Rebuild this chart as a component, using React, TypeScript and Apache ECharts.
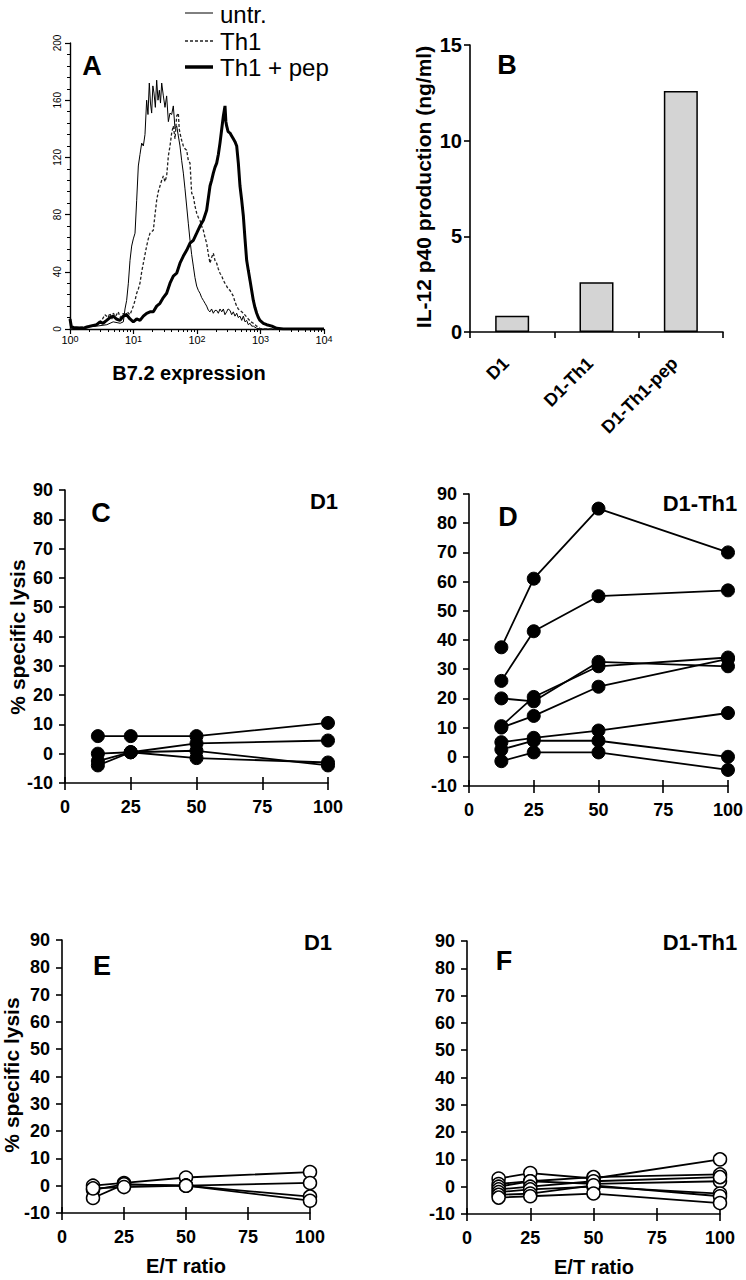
import React, { useEffect, useRef } from "react";
import * as echarts from "echarts";

const FONT = "'Liberation Sans', Arial, Helvetica, sans-serif";

// ---------- Panel A: flow histogram (x = decade position log10(B7.2), y = cell count)
const histDecadeLabels = ["0", "1", "2", "3", "4"];
const untrHist: [number, number][] = [
  [0, 8], [0.03, 0], [0.21, 1], [0.42, 2], [0.58, 3], [0.68, 5], [0.79, 4], [0.84, 5],
  [0.866, 14], [0.892, 20], [0.919, 32], [0.945, 48], [0.971, 58], [0.997, 63], [1.024, 67],
  [1.05, 90], [1.076, 114], [1.102, 122], [1.129, 130], [1.155, 128], [1.181, 136], [1.207, 160],
  [1.228, 150], [1.249, 172], [1.267, 158], [1.286, 151], [1.305, 170], [1.323, 165], [1.344, 155],
  [1.365, 174], [1.386, 160], [1.407, 167], [1.425, 158], [1.444, 172], [1.47, 163], [1.496, 155],
  [1.522, 163], [1.549, 145], [1.575, 151], [1.601, 150], [1.627, 156], [1.654, 140], [1.68, 142],
  [1.706, 135], [1.732, 128], [1.758, 118], [1.785, 109], [1.811, 98], [1.837, 86], [1.863, 74],
  [1.89, 62], [1.916, 52], [1.942, 44], [1.968, 36], [1.995, 30], [2.021, 27], [2.047, 25],
  [2.073, 22], [2.1, 20], [2.126, 18], [2.152, 16], [2.18, 13], [2.205, 12], [2.23, 14],
  [2.257, 11], [2.283, 13], [2.31, 13], [2.336, 11], [2.362, 14], [2.39, 12], [2.415, 14],
  [2.44, 10], [2.467, 12], [2.49, 14], [2.52, 13], [2.546, 10], [2.572, 12], [2.598, 9],
  [2.625, 11], [2.65, 8], [2.677, 9], [2.704, 6], [2.73, 9], [2.756, 5], [2.782, 6], [2.808, 3],
  [2.835, 4], [2.861, 2], [2.887, 2], [2.94, 0.5], [3.0, 0], [4, 0],
];
const th1Hist: [number, number][] = [
  [0, 0], [0.42, 3], [0.5, 6], [0.55, 10], [0.6, 8], [0.63, 11], [0.66, 7], [0.68, 11], [0.72, 9],
  [0.76, 12], [0.79, 8], [0.84, 11], [0.87, 9], [0.9, 12], [0.945, 10], [0.997, 16], [1.024, 20],
  [1.05, 25], [1.076, 28], [1.102, 32], [1.129, 40], [1.155, 46], [1.181, 52], [1.207, 58],
  [1.233, 63], [1.26, 67], [1.286, 68], [1.312, 69], [1.339, 80], [1.365, 90], [1.39, 96],
  [1.417, 100], [1.444, 104], [1.47, 107], [1.496, 103], [1.522, 107], [1.549, 121], [1.575, 128],
  [1.601, 137], [1.627, 142], [1.654, 133], [1.68, 149], [1.706, 151], [1.72, 140], [1.732, 137],
  [1.758, 132], [1.785, 128], [1.811, 126], [1.837, 125], [1.863, 118], [1.89, 116], [1.916, 95],
  [1.942, 93], [1.968, 86], [1.995, 81], [2.021, 78], [2.047, 76], [2.073, 72], [2.1, 69],
  [2.126, 64], [2.152, 60], [2.18, 52], [2.205, 46], [2.23, 50], [2.257, 53], [2.283, 48],
  [2.31, 46], [2.336, 42], [2.362, 39], [2.39, 37], [2.415, 34], [2.44, 32], [2.467, 30],
  [2.49, 28], [2.52, 27], [2.546, 25], [2.572, 23], [2.598, 19], [2.625, 16], [2.65, 14],
  [2.677, 13], [2.704, 12], [2.73, 11], [2.77, 9], [2.808, 7], [2.85, 5], [2.887, 4], [2.94, 2],
  [2.992, 0.5], [3.05, 0], [4, 0],
];
const th1PepHist: [number, number][] = [
  [0, 7], [0.02, 2], [0.052, 1], [0.21, 0.5], [0.315, 2], [0.42, 3], [0.472, 5], [0.52, 4],
  [0.577, 6], [0.63, 8], [0.682, 9], [0.73, 7], [0.787, 6], [0.84, 9], [0.892, 10], [0.945, 7],
  [0.997, 5], [1.05, 7], [1.102, 6], [1.155, 9], [1.207, 11], [1.26, 12], [1.312, 12], [1.365, 16],
  [1.417, 18], [1.47, 22], [1.522, 25], [1.575, 32], [1.627, 37], [1.68, 39], [1.732, 46],
  [1.785, 51], [1.837, 55], [1.89, 60], [1.942, 62], [1.995, 67], [2.047, 72], [2.1, 76],
  [2.152, 83], [2.18, 92], [2.205, 100], [2.23, 104], [2.257, 109], [2.283, 113], [2.31, 116],
  [2.336, 122], [2.362, 130], [2.39, 140], [2.415, 149], [2.441, 156], [2.455, 145], [2.467, 142],
  [2.49, 138], [2.52, 137], [2.546, 135], [2.572, 133], [2.598, 131], [2.625, 128], [2.651, 116],
  [2.677, 100], [2.704, 90], [2.73, 79], [2.756, 63], [2.782, 48], [2.808, 41], [2.835, 34],
  [2.861, 27], [2.887, 20], [2.913, 15], [2.94, 11], [2.966, 8], [2.992, 6], [3.045, 4],
  [3.097, 3], [3.18, 2], [3.255, 0.5], [3.36, 0], [4, 0],
];

// ---------- Panel B: IL-12 p40 production (ng/ml)
const il12Categories = ["D1", "D1-Th1", "D1-Th1-pep"];
const il12Values = [0.85, 2.6, 12.6];

// ---------- Panels C-F: % specific lysis vs E/T ratio
const etRatios = [12.5, 25, 50, 100];
const lysisC_D1: number[][] = [
  [6, 6, 6, 10.5],
  [-4, 0.5, 3.5, 4.5],
  [0, 0.5, 1, -4],
  [-2.5, 0.5, -1.5, -3],
];
const lysisD_D1Th1: number[][] = [
  [37.5, 61, 85, 70],
  [26, 43, 55, 57],
  [20, 19, 32.5, 31],
  [10.5, 20.5, 31, 34],
  [10, 14, 24, 33.5],
  [5, 6.5, 9, 15],
  [2.5, 5.5, 5.5, 0],
  [-1.5, 1.5, 1.5, -4.5],
];
const lysisE_D1: number[][] = [
  [0, 1, 3, 5],
  [-1.5, 0.5, 0, 1],
  [-4.5, 0.5, 0, -4],
  [-1, -0.5, 0, -5.5],
];
const lysisF_D1Th1: number[][] = [
  [3, 5, 3, 10],
  [1, 2, 3.5, 4.5],
  [0, 2, 1, 2],
  [-1, 0, 2, 3.5],
  [-2, -1, 0, -2.5],
  [-3, -2.5, 0.5, -3.5],
  [-4, -3.5, -2.5, -6],
];

const BLACK = "#000";

function buildOption() {
  const minorLogTicks: number[] = [];
  for (let d = 0; d < 4; d++) {
    for (let k = 2; k <= 9; k++) minorLogTicks.push(d + Math.log10(k));
  }

  const boldLabel = (size: number, margin: number) => ({
    color: BLACK,
    fontFamily: FONT,
    fontWeight: "bold" as const,
    fontSize: size,
    margin,
  });

  const lysisX = (gridIndex: number) => [
    {
      gridIndex,
      type: "value",
      position: "bottom",
      min: 0,
      max: 100,
      interval: 25,
      axisLine: { show: true, onZero: false, lineStyle: { color: BLACK, width: 1.6 } },
      axisTick: { show: true, length: 7, lineStyle: { color: BLACK, width: 1.6 } },
      axisLabel: boldLabel(18, 15),
      splitLine: { show: false },
    },
    {
      gridIndex,
      type: "value",
      position: "bottom",
      min: 0,
      max: 100,
      interval: 25,
      axisLine: { show: false, onZero: false },
      axisTick: { show: true, inside: true, length: 6, lineStyle: { color: BLACK, width: 1.6 } },
      axisLabel: { show: false },
      splitLine: { show: false },
    },
  ];
  const lysisY = (gridIndex: number) => ({
    gridIndex,
    type: "value",
    min: -10,
    max: 90,
    interval: 10,
    axisLine: { show: true, onZero: false, lineStyle: { color: BLACK, width: 1.6 } },
    axisTick: { show: true, length: 6, lineStyle: { color: BLACK, width: 1.6 } },
    axisLabel: boldLabel(18, 12),
    splitLine: { show: false },
  });

  const lysisSeries = (rows: number[][], xi: number, yi: number, filled: boolean) =>
    rows.map((row) => ({
      type: "line",
      xAxisIndex: xi,
      yAxisIndex: yi,
      data: etRatios.map((x, i) => [x, row[i]]),
      symbol: "circle",
      symbolSize: 13,
      showSymbol: true,
      lineStyle: { color: BLACK, width: 1.8 },
      itemStyle: filled
        ? { color: BLACK, borderColor: BLACK, borderWidth: 1 }
        : { color: "#fff", borderColor: BLACK, borderWidth: 1.5 },
      clip: false,
    }));

  const histLine = (data: [number, number][], width: number, type: any, color: string, z: number) => ({
    type: "line",
    xAxisIndex: 0,
    yAxisIndex: 0,
    data,
    showSymbol: false,
    symbol: "none",
    lineStyle: { color, width, type },
    z,
  });

  const text = (t: string, x: number, y: number, size: number, bold: boolean, rotation = 0, align = "center") => ({
    type: "text",
    x,
    y,
    rotation,
    style: {
      text: t,
      fill: BLACK,
      fontFamily: FONT,
      fontSize: size,
      fontWeight: bold ? "bold" : "normal",
      textAlign: align,
      textVerticalAlign: "middle",
    },
  });

  return {
    animation: false,
    backgroundColor: "#fff",
    grid: [
      { left: 70, top: 43, width: 254, height: 286 },
      { left: 470, top: 45, width: 253, height: 287 },
      { left: 65, top: 490, width: 263, height: 293 },
      { left: 469, top: 494, width: 260, height: 292 },
      { left: 62, top: 940, width: 248, height: 273 },
      { left: 467, top: 941, width: 253, height: 273 },
    ],
    xAxis: [
      {
        gridIndex: 0,
        type: "value",
        position: "bottom",
        min: 0,
        max: 4,
        interval: 1,
        axisLine: { show: true, onZero: false, lineStyle: { color: BLACK, width: 1.4 } },
        axisTick: { show: true, length: 5, lineStyle: { color: BLACK, width: 1.2 } },
        axisLabel: {
          margin: 5,
          color: BLACK,
          fontFamily: FONT,
          fontSize: 11,
          formatter: (v: number) => `{b|10}{s|${histDecadeLabels[Math.round(v)]}}`,
          rich: {
            b: { fontSize: 11, fontFamily: FONT, color: BLACK, verticalAlign: "bottom" },
            s: { fontSize: 9, fontFamily: FONT, color: BLACK, verticalAlign: "top" },
          },
        },
        splitLine: { show: false },
      },
      {
        gridIndex: 0,
        type: "value",
        position: "bottom",
        min: 0,
        max: 4,
        axisLine: { show: false, onZero: false },
        axisTick: { show: true, length: 3, customValues: minorLogTicks, lineStyle: { color: BLACK, width: 1 } },
        axisLabel: { show: false },
        splitLine: { show: false },
      },
      {
        gridIndex: 1,
        type: "category",
        data: il12Categories,
        axisLine: { show: true, lineStyle: { color: BLACK, width: 1.6 } },
        axisTick: { show: true, length: 6, lineStyle: { color: BLACK, width: 1.6 } },
        axisLabel: { ...boldLabel(18, 22), rotate: 45, padding: [0, 9, 0, 0] },
      },
      ...lysisX(2),
      ...lysisX(3),
      ...lysisX(4),
      ...lysisX(5),
    ],
    yAxis: [
      {
        gridIndex: 0,
        type: "value",
        min: 0,
        max: 200,
        interval: 40,
        axisLine: { show: true, onZero: false, lineStyle: { color: BLACK, width: 1.4 } },
        axisTick: { show: true, length: 5, lineStyle: { color: BLACK, width: 1.2 } },
        minorTick: { show: true, splitNumber: 5, length: 3, lineStyle: { color: BLACK, width: 1 } },
        axisLabel: { color: BLACK, fontFamily: FONT, fontSize: 10, rotate: 90, margin: 8 },
        splitLine: { show: false },
        minorSplitLine: { show: false },
      },
      {
        gridIndex: 1,
        type: "value",
        min: 0,
        max: 15,
        interval: 5,
        axisLine: { show: true, onZero: false, lineStyle: { color: BLACK, width: 1.6 } },
        axisTick: { show: true, length: 6, lineStyle: { color: BLACK, width: 1.6 } },
        axisLabel: boldLabel(20, 8),
        splitLine: { show: false },
      },
      lysisY(2),
      lysisY(3),
      lysisY(4),
      lysisY(5),
    ],
    series: [
      histLine(untrHist, 1, "solid", BLACK, 2),
      histLine(th1Hist, 1.3, [3, 2], "#222", 3),
      histLine(th1PepHist, 3, "solid", BLACK, 4),
      {
        type: "bar",
        xAxisIndex: 2,
        yAxisIndex: 1,
        data: il12Values,
        barWidth: 34,
        itemStyle: { color: "#d4d4d4", borderColor: BLACK, borderWidth: 1.5 },
      },
      ...lysisSeries(lysisC_D1, 3, 2, true),
      ...lysisSeries(lysisD_D1Th1, 5, 3, true),
      ...lysisSeries(lysisE_D1, 7, 4, false),
      ...lysisSeries(lysisF_D1Th1, 9, 5, false),
    ],
    graphic: [
      // Legend of panel A
      { type: "line", shape: { x1: 185, y1: 13, x2: 213, y2: 13 }, style: { stroke: BLACK, lineWidth: 1 } },
      { type: "line", shape: { x1: 185, y1: 41, x2: 213, y2: 41 }, style: { stroke: "#222", lineWidth: 1.3, lineDash: [3, 2] } },
      { type: "line", shape: { x1: 185, y1: 67, x2: 213, y2: 67 }, style: { stroke: BLACK, lineWidth: 3.5 } },
      text("untr.", 220, 14, 24, false, 0, "left"),
      text("Th1", 220, 41, 24, false, 0, "left"),
      text("Th1 + pep", 220, 67, 24, false, 0, "left"),
      // Panel letters and subtitles
      text("A", 92, 66, 27, true),
      text("B", 507, 65, 27, true),
      text("C", 101, 513, 27, true),
      text("D1", 324, 501, 22, true),
      text("D", 508, 517, 27, true),
      text("D1-Th1", 700, 503, 22, true),
      text("E", 102, 966, 27, true),
      text("D1", 318, 942, 22, true),
      text("F", 504, 961, 27, true),
      text("D1-Th1", 700, 942, 22, true),
      // Axis titles
      text("B7.2 expression", 189, 373, 20, true),
      text("IL-12 p40 production (ng/ml)", 423, 187, 21, true, Math.PI / 2),
      text("% specific lysis", 17, 637, 21, true, Math.PI / 2),
      text("% specific lysis", 11, 1075, 21, true, Math.PI / 2),
      text("E/T ratio", 186, 1266, 20, true),
      text("E/T ratio", 594, 1267, 20, true),
    ],
  };
}

export default function App() {
  const ref = useRef<HTMLDivElement>(null);
  useEffect(() => {
    if (!ref.current) return;
    const chart = echarts.init(ref.current, undefined, { renderer: "svg" });
    chart.setOption(buildOption() as any);
    return () => chart.dispose();
  }, []);
  return (
    <div
      ref={ref}
      style={{ position: "absolute", left: 0, top: 0, width: 746, height: 1280, background: "#fff" }}
    />
  );
}
